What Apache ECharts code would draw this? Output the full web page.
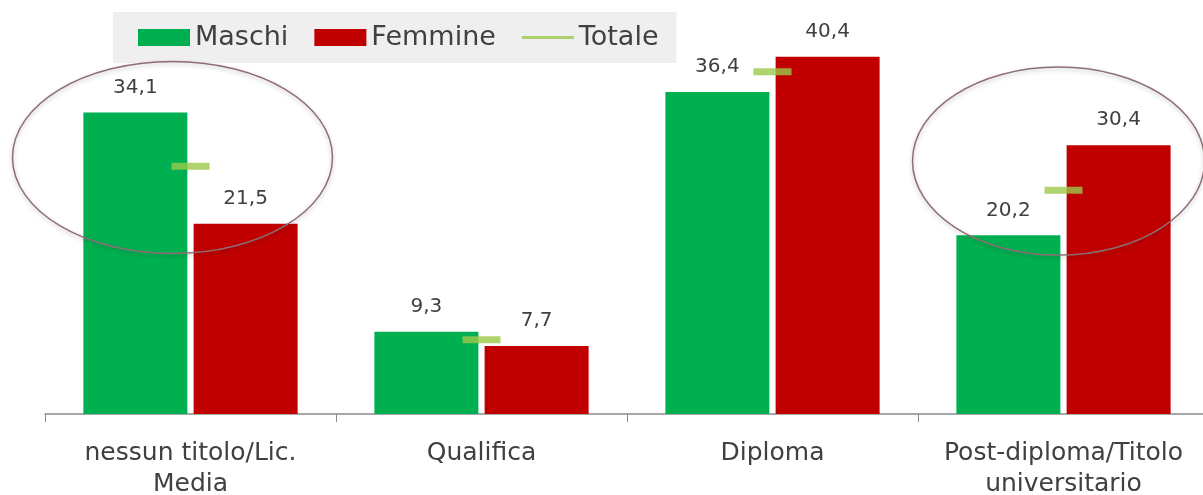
<!DOCTYPE html>
<html>
<head>
<meta charset="utf-8">
<script src="https://cdn.jsdelivr.net/npm/echarts@6/dist/echarts.min.js"></script>
<style>
  html, body { margin: 0; padding: 0; background: #fff; }
  #main { width: 1203px; height: 495px; }
</style>
</head>
<body>
<div id="main"></div>
<script>
var categories = ['nessun titolo/Lic.\nMedia', 'Qualifica', 'Diploma', 'Post-diploma/Titolo\nuniversitario'];
var maschi = [34.1, 9.3, 36.4, 20.2];
var femmine = [21.5, 7.7, 40.4, 30.4];
var totale = [28.0, 8.4, 38.7, 25.3];
// categories circled in the original
var circled = [0, 3];

var chart = echarts.init(document.getElementById('main'));
var font = 'DejaVu Sans';
var textColor = '#404040';

function fmt(p) {
  return String(p.value).replace('.', ',');
}

var option = {
  animation: false,
  textStyle: { fontFamily: font },
  legend: {
    left: 113,
    top: 12,
    padding: [12, 18, 12, 25],
    backgroundColor: '#efefef',
    itemWidth: 52,
    itemHeight: 17,
    itemGap: 26,
    textStyle: { fontSize: 27, color: textColor, fontFamily: font },
    data: [
      { name: 'Maschi', icon: 'rect' },
      { name: 'Femmine', icon: 'rect' },
      { name: 'Totale', icon: 'path://M0,0h52v3h-52z' }
    ]
  },
  grid: { left: 45, width: 1164, top: 16, bottom: 81, outerBoundsMode: 'none' },
  xAxis: {
    type: 'category',
    data: categories,
    axisLine: { lineStyle: { color: '#8c8c8c', width: 1.5 } },
    axisTick: { show: true, length: 8, lineStyle: { color: '#8c8c8c' } },
    axisLabel: {
      interval: 0,
      fontSize: 25,
      color: textColor,
      lineHeight: 31,
      margin: 24,
      fontFamily: font
    }
  },
  yAxis: {
    type: 'value',
    min: 0,
    max: 45,
    show: false,
    splitLine: { show: false }
  },
  series: [
    {
      name: 'Maschi',
      type: 'bar',
      data: maschi,
      barWidth: 104,
      barGap: '6%',
      itemStyle: { color: '#00B050' },
      label: { show: true, position: 'top', distance: 15, fontSize: 20, color: textColor, formatter: fmt }
    },
    {
      name: 'Femmine',
      type: 'bar',
      data: femmine,
      barWidth: 104,
      itemStyle: { color: '#C00000' },
      label: { show: true, position: 'top', distance: 15, fontSize: 20, color: textColor, formatter: fmt }
    },
    {
      name: 'Totale',
      type: 'scatter',
      data: totale,
      symbol: 'rect',
      symbolSize: [38, 7],
      itemStyle: { color: '#9BC94A' },
      z: 5
    }
  ]
};

chart.setOption(option);

// ellipses around the highlighted categories
var ellipseSpec = [
  { cat: 0, dx: -18, value: 29.0, rx: 160, ry: 96 },
  { cat: 3, dx: -5, value: 28.6, rx: 146, ry: 94 }
];
var graphics = ellipseSpec.filter(function (e) { return circled.indexOf(e.cat) >= 0; }).map(function (e) {
  var p = chart.convertToPixel({ gridIndex: 0 }, [e.cat, e.value]);
  return {
    type: 'ellipse',
    shape: { cx: p[0] + e.dx, cy: p[1], rx: e.rx, ry: e.ry },
    style: { fill: 'none', stroke: '#8E6E74', lineWidth: 1.5, shadowBlur: 4, shadowColor: 'rgba(0,0,0,0.25)', shadowOffsetY: 2 },
    z: 100
  };
});
chart.setOption({ graphic: graphics });
</script>
</body>
</html>
